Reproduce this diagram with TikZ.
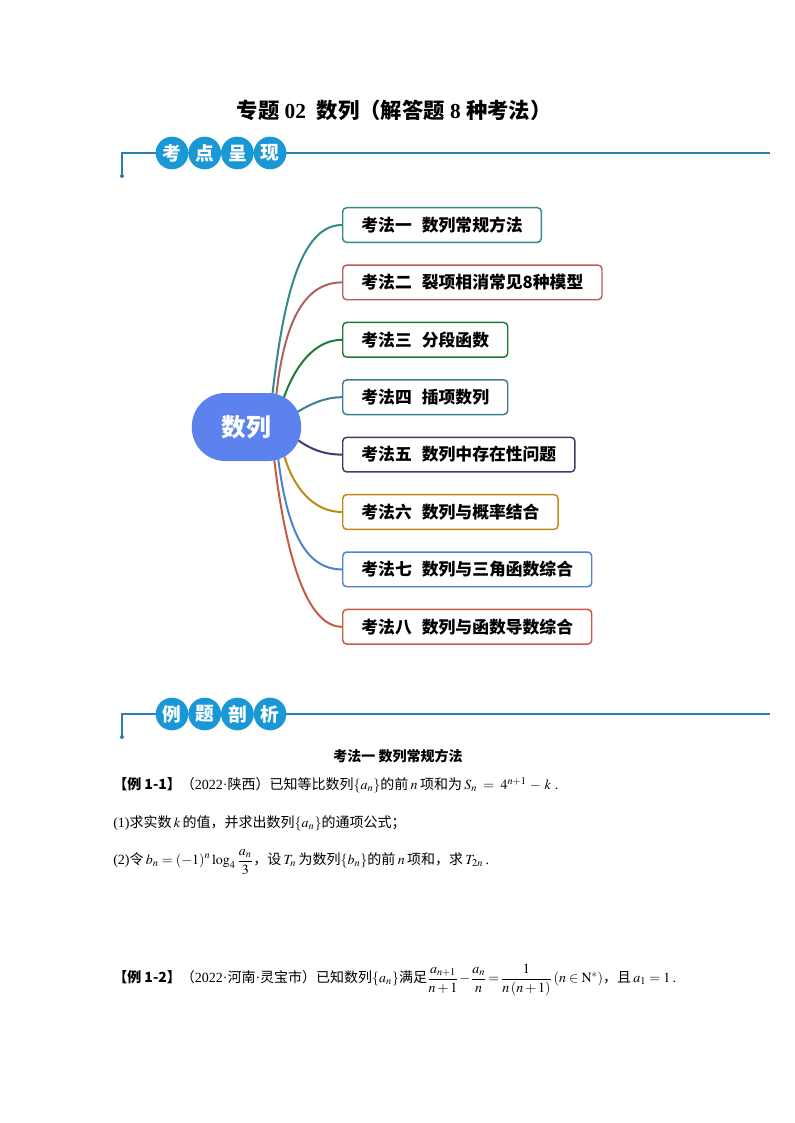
\documentclass[tikz,border=0pt]{standalone}
\usepackage{amsmath,amssymb}
\usepackage{mathptmx}
\usepackage{fontspec}
\setmainfont{Liberation Serif}
\newfontfamily\cjk{Noto Sans CJK SC}
\usetikzlibrary{positioning,backgrounds}
\definecolor{beadblue}{HTML}{1A98D5}
\definecolor{barblue}{HTML}{2A7FB0}
\definecolor{hubblue}{HTML}{5C82EE}
\definecolor{kA}{HTML}{338A87}
\definecolor{kB}{HTML}{B0605E}
\definecolor{kC}{HTML}{1F7A3A}
\definecolor{kD}{HTML}{3B7E96}
\definecolor{kE}{HTML}{3B3E6B}
\definecolor{kF}{HTML}{BE8A14}
\definecolor{kG}{HTML}{4D82CC}
\definecolor{kH}{HTML}{C55A47}
\tikzset{topic/.style={draw,rounded corners=3pt,line width=1.1pt,fill=white,anchor=west,
  minimum height=26pt,inner xsep=14pt,font=\cjk\bfseries\fontsize{12.6}{13}\selectfont},
  bead/.style={circle,fill=beadblue,text=white,minimum size=24.5pt,inner sep=0pt,
  font=\cjk\bfseries\fontsize{14}{14}\selectfont},
  hub/.style={fill=hubblue,text=white,rounded corners=25pt,minimum width=82pt,
  minimum height=51pt,font=\cjk\bfseries\fontsize{18.5}{19}\selectfont},
  link/.style={line width=1.5pt},
  para/.style={anchor=west,inner sep=0pt,font=\fontsize{10.5}{12}\selectfont}}
\newcommand{\gap}{\hspace{0.6em}}

\begin{document}
\begin{tikzpicture}[x=0.75pt,y=-0.75pt]
\useasboundingbox (0,0) rectangle (794,1123);
\node[font=\bfseries\fontsize{16}{17}\selectfont] (title) at (394,110)
  {{\cjk 专题} 02\ \ {\cjk 数列（解答题} 8 {\cjk 种考法）}};
\foreach \y/\p in {153/a,714/b}{
  \coordinate (\p0) at (122,{\y+23});
  \coordinate (\p9) at (770,\y);
  \draw[barblue,line width=0.9pt] (\p0) |- (\p9);
  \fill[barblue] (\p0) circle (1.5pt);
}
\foreach \c [count=\i] in {考,点,呈,现} \node[bead] (a\i) at ({139.3+32.7*\i},153) {\c};
\foreach \c [count=\i] in {例,题,剖,析} \node[bead] (b\i) at ({139.3+32.7*\i},714) {\c};

\node[hub] (hub) at (246.5,427) {数列};
\foreach \i/\col/\txt in {1/kA/{考法一\gap 数列常规方法},2/kB/{考法二\gap 裂项相消常见8种模型},
  3/kC/{考法三\gap 分段函数},4/kD/{考法四\gap 插项数列},5/kE/{考法五\gap 数列中存在性问题},
  6/kF/{考法六\gap 数列与概率结合},7/kG/{考法七\gap 数列与三角函数综合},8/kH/{考法八\gap 数列与函数导数综合}}
  \node[topic,draw=\col] (t\i) at (342,{225+57.4*(\i-1)}) {\txt};
\begin{scope}[on background layer]
\foreach \i/\col/\sx/\sy/\ax/\ay/\bx in {1/kA/25.5/-29/11/-98/-42,2/kB/29.5/-29/8/-78/-37,
  3/kC/36.5/-27/12/-35/-27,4/kD/47.5/-13/16/-10/-17,5/kE/48.5/11/16/12/-17,
  6/kF/37.5/28/10/35/-27,7/kG/31.5/30/9/73/-37,8/kH/27.5/31/12/100/-35}
  \draw[link,\col] ([shift={(\sx,\sy)}]hub.center) .. controls +(\ax,\ay) and +(\bx,0) .. (t\i.west);
\end{scope}

\node[font=\cjk\bfseries\fontsize{10.5}{11}\selectfont] (sec) at (398,756) {考法一\ 数列常规方法};
\node[para] (ex1) at (113,785) {{\cjk\bfseries 【例 1-1】}{\cjk （}2022·{\cjk 陕西）已知等比数列}$\{a_n\}${\cjk 的前}\,$n$\,{\cjk 项和为}\,$S_n\;=\;4^{n+1}\,-\,k$\;.};
\node[para] (q1) at (113,823) {(1){\cjk 求实数}\,$k$\,{\cjk 的值，并求出数列}$\{a_n\}${\cjk 的通项公式；}};
\node[para] (q2) at (113,862) {(2){\cjk 令}\,$b_n=\left(-1\right)^n\log_4\dfrac{a_n}{3}${\cjk ，设}\,$T_n$\,{\cjk 为数列}$\{b_n\}${\cjk 的前}\,$n$\,{\cjk 项和，求}\,$T_{2n}$\,.};
\node[para] (ex2) at (113,980) {{\cjk\bfseries 【例 1-2】}{\cjk （}2022·{\cjk 河南}·{\cjk 灵宝市）已知数列}$\{a_n\}${\cjk 满足}$\dfrac{a_{n+1}}{n+1}\!-\!\dfrac{a_n}{n}\!=\!\dfrac{1}{n\left(n+1\right)}\left(n\in\mathrm{N}^*\right)${\cjk ，且}\,$a_1=1$\,.};
\end{tikzpicture}
\end{document}
